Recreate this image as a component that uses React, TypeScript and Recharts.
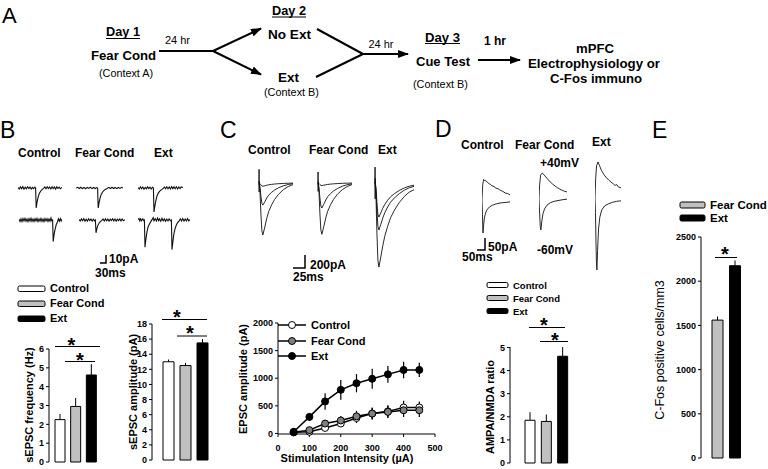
import React from 'react';
import { BarChart, Bar, XAxis, YAxis, ErrorBar, Cell, LineChart, Line } from 'recharts';

const FONT = "'Liberation Sans', Arial, Helvetica, sans-serif";

// ---------- Panel B: sEPSC ----------
const groups3 = ['Control', 'Fear Cond', 'Ext'];
const groupColors3 = ['#ffffff', '#c0c0c0', '#000000'];
const sepscFreq = [2.25, 2.95, 4.62];
const sepscFreqErr = [0.3, 0.45, 0.58];
const freqTicks = [0, 1, 2, 3, 4, 5, 6];
const sepscAmp = [13.0, 12.5, 15.5];
const sepscAmpErr = [0.3, 0.35, 0.5];
const ampTicks = [0, 2, 4, 6, 8, 10, 12, 14, 16, 18];

// ---------- Panel C: input-output ----------
const stimIntensity = [50, 100, 150, 200, 250, 300, 350, 400, 450];
const epscCtrl = [20, 30, 100, 180, 280, 360, 400, 470, 470];
const epscCtrlErr = [15, 20, 40, 60, 90, 100, 110, 120, 110];
const epscFear = [20, 60, 180, 235, 310, 360, 390, 420, 420];
const epscFearErr = [20, 40, 60, 80, 100, 110, 110, 120, 120];
const epscExt = [30, 300, 580, 790, 910, 990, 1070, 1150, 1150];
const epscExtErr = [40, 70, 150, 180, 165, 180, 150, 150, 130];
const epscXTicks = [0, 100, 200, 300, 400, 500];
const epscYTicks = [0, 500, 1000, 1500, 2000];

// ---------- Panel D: AMPA/NMDA ----------
const ampaNmda = [1.85, 1.8, 4.62];
const ampaNmdaErr = [0.35, 0.3, 0.4];
const ampaTicks = [0, 1, 2, 3, 4, 5];

// ---------- Panel E: c-Fos ----------
const groups2 = ['Fear Cond', 'Ext'];
const groupColors2 = ['#c0c0c0', '#000000'];
const cfos = [1560, 2175];
const cfosErr = [40, 60];
const cfosTicks = [0, 500, 1000, 1500, 2000, 2500];

// ---------- Traces (ms, pA) ----------
type P = [number, number];
const bCtrl1: P[] = [[0,0.5],[6,-1.2],[12,1.4],[18,-0.8],[24,1.6],[30,-1.4],[36,0.9],[42,-1],[48,1.5],[54,-0.6],[60,1.2],[66,-1.3],[72,0.8],[78,-0.9],[84,1.1],[88,0],[91,-25],[95,-18],[100,-12],[106,-7],[113,-4],[120,-2],[128,-0.5],[134,1.4],[140,-1],[146,1.5],[152,-0.8],[158,1.3],[164,-1.2],[170,1.6],[176,-0.7],[182,1.2],[188,-1.3],[194,1.4],[200,-0.6],[206,1.1],[212,-1],[220,0.8]];
const bFear1: P[] = [[0,0],[8,0.8],[16,-0.6],[24,0.9],[32,-0.7],[40,0.6],[48,-0.9],[56,0.7],[64,-0.5],[72,0.9],[80,-0.8],[88,0.6],[96,-0.7],[104,0.5],[108,0],[111,-25],[115,-19],[120,-13],[126,-8],[133,-5],[140,-3],[148,-1.5],[156,-0.5],[164,0.8],[172,-0.7],[180,0.9],[188,-0.6],[196,0.7],[204,-0.8],[212,0.6],[220,-0.5],[228,0.8],[235,0]];
const bExt1: P[] = [[0,0.6],[6,-1.3],[12,1.5],[18,-1],[24,1.2],[30,-1.5],[36,0.8],[42,-1.1],[48,1.4],[54,-0.8],[60,1],[66,-1.2],[72,0.9],[77,0],[80,-30],[84,-23],[89,-16],[95,-10],[102,-6],[110,-3.5],[118,-2],[126,-0.5],[132,1.2],[138,-1],[144,1.5],[150,-0.9],[156,1.3],[162,-1.2],[168,1.6],[174,-0.8],[180,1.4],[186,-1],[192,1.5],[198,-1.2],[204,1.3],[210,-0.7],[216,1.4],[225,0.5]];
const bCtrl2: P[] = [[0,1],[5,-1.8],[10,1.5],[15,-2],[20,1.8],[25,-1.2],[30,2],[35,-1.6],[40,1.3],[45,-2.1],[50,1.7],[55,-1.4],[60,2.1],[65,-1.8],[70,1.2],[75,-1.9],[80,1.6],[85,-1.3],[90,1.9],[95,-2],[100,1.4],[105,-1.5],[110,2],[115,-1.7],[120,1.2],[125,-2],[130,1.8],[135,-1.1],[140,1.6],[145,-1.9],[150,1.3],[155,-1.4],[160,2.5],[164,-1],[168,0],[171,-27],[175,-19],[180,-12],[186,-6],[192,-2.5],[197,1.5],[202,-1.6],[207,1.8],[211,-1.2],[215,0.8]];
const bFear2: P[] = [[0,0.5],[6,-1.2],[12,1.4],[18,-1],[24,1.6],[30,-1.3],[36,1],[42,-1.4],[48,1.5],[54,-0.7],[60,1.2],[66,-1.5],[72,1],[78,-1],[82,0],[85,-16],[89,-11],[94,-7],[100,-4],[107,-2],[114,-0.5],[120,1.2],[126,-1.2],[132,1.4],[138,-0.9],[144,1.3],[150,-1.4],[156,1.1],[162,-0.8],[168,1.5],[174,-1.1],[180,1.2],[186,-1.4],[192,1],[198,-0.8],[204,1.3],[210,-1.1],[216,1.2],[222,-0.9],[230,0.4]];
const bExt2: P[] = [[0,0.5],[5,1.8],[9,-1.2],[13,1.4],[18,-1],[24,1.5],[29,-0.8],[32,0],[35,-34],[39,-25],[44,-16],[50,-9],[57,-5],[64,-2],[70,0.5],[76,3],[80,-1],[86,1.6],[92,-1.3],[98,2.5],[103,-0.8],[108,1.4],[114,-1.5],[120,2],[126,-1],[132,1.3],[138,-1.6],[144,1.2],[150,-1.2],[156,1.5],[162,-0.9],[167,0],[170,-37],[174,-28],[179,-18],[185,-11],[192,-6],[199,-3],[206,-1],[212,1.5],[218,-1.2],[224,1.8],[230,-1.4],[236,1.3],[242,-1.1],[248,1.6],[254,-1],[260,0.5]];

const cT = [0, 2, 4, 6, 8, 12, 16, 20, 26, 32, 40, 50, 60, 70];
const cCtrlA = [0, -8, -30, -46, -50, -43, -34, -28, -21, -16, -11, -7, -4, -2];
const cCtrlB = [0, -51, -204, -313, -340, -289, -231, -187, -143, -109, -75, -44, -24, -10];
const cCtrlC = [0, -120, -480, -736, -800, -680, -544, -440, -336, -256, -176, -104, -56, -24];
const cFearA = [0, -6, -24, -37, -40, -34, -27, -22, -17, -13, -9, -5, -3, -1];
const cFearB = [0, -58, -231, -354, -385, -327, -262, -212, -162, -123, -85, -50, -27, -12];
const cFearC = [0, -119, -474, -727, -790, -672, -537, -435, -332, -253, -174, -103, -55, -24];
const cExtT = [0, 2, 4, 6, 8, 12, 16, 20, 26, 32, 40, 50, 60, 70, 80];
const cExtA = [0, -81, -324, -497, -540, -475, -405, -346, -281, -227, -178, -130, -92, -65, -49];
const cExtB = [0, -111, -444, -681, -740, -651, -555, -474, -385, -311, -244, -178, -126, -89, -67];
const cExtC = [0, -197, -786, -1205, -1310, -1153, -983, -838, -681, -550, -432, -314, -223, -157, -118];
const artT = [0, 0.2, 0.4, 0.6, 0.8];
const cCtrlArt = [0, 210, -140, 30, 0];
const cFearArt = [0, 170, -130, 20, 0];
const cExtArt = [0, 230, -260, 60, 0];

const dCtrlUpT = [0, 4, 10, 16, 24, 32, 42, 52, 62, 75, 88, 100, 115, 130, 145, 160, 175];
const dCtrlUpV = [0, 60, 86, 81, 80, 75, 69, 65, 59, 56, 49, 47, 40, 36, 29, 27, 21];
const dCtrlLoT = [0, 3, 6, 10, 15, 22, 30, 45, 65, 90, 120, 150, 175];
const dCtrlLoV = [0, -60, -138, -105, -75, -55, -42, -30, -22, -16, -12, -10, -8];
const dFearUpT = [0, 4, 10, 20, 30, 42, 55, 70, 85, 100, 115, 130, 145, 160, 175];
const dFearUpV = [0, 55, 95, 104, 98, 88, 78, 67, 58, 50, 43, 37, 32, 28, 25];
const dFearLoT = [0, 3, 8, 12, 18, 25, 35, 50, 70, 95, 125, 150, 175];
const dFearLoV = [0, -50, -120, -133, -95, -65, -45, -30, -20, -14, -10, -7, -5];
const dExtUpT = [0, 4, 10, 19, 28, 40, 55, 70, 85, 100, 115, 125, 135, 145, 162];
const dExtUpV = [0, 80, 135, 150, 135, 115, 98, 85, 75, 66, 58, 52, 56, 46, 42];
const dExtLoT = [0, 3, 6, 9, 12, 16, 22, 30, 42, 60, 85, 110, 135, 162];
const dExtLoV = [0, -60, -180, -270, -300, -220, -130, -80, -50, -33, -24, -18, -14, -12];

const zip = (ts: number[], vs: number[]) => ts.map((t, i) => ({ t, v: vs[i] }));
const pairs = (ps: P[]) => ps.map(([t, v]) => ({ t, v }));

type Row = { t: number; v: number };

function Trace({ left, top, width, height, xDomain, yDomain, series, sw = 0.9 }:
  { left: number; top: number; width: number; height: number; xDomain: [number, number]; yDomain: [number, number]; series: Row[][]; sw?: number }) {
  return (
    <div style={{ position: 'absolute', left, top, width, height }}>
      <LineChart width={width} height={height} margin={{ top: 0, right: 0, bottom: 0, left: 0 }}>
        <XAxis type="number" dataKey="t" domain={xDomain} scale="linear" ticks={xDomain} hide />
        <YAxis type="number" domain={yDomain} scale="linear" ticks={yDomain} hide />
        {series.map((s, i) => (
          <Line key={i} data={s} dataKey="v" type="linear" stroke="#111" strokeWidth={sw}
            dot={false} activeDot={false} isAnimationActive={false} />
        ))}
      </LineChart>
    </div>
  );
}

const tickStyle = { fontSize: 9, fontWeight: 700, fill: '#000', fontFamily: FONT };

function GroupBars({ left, top, width, height, margin, yWidth, names, values, errs, colors, domain, ticks, padding, barSize }:
  any) {
  const data = names.map((n: string, i: number) => ({ name: n, value: values[i], err: [0, errs[i]] }));
  return (
    <div style={{ position: 'absolute', left, top, width, height }}>
      <BarChart width={width} height={height} data={data} margin={margin}>
        <XAxis dataKey="name" type="category" tick={false} tickLine={false} height={0}
          axisLine={{ stroke: '#000', strokeWidth: 1 }} padding={padding} />
        <YAxis type="number" domain={domain} ticks={ticks} interval={0} width={yWidth} tickSize={3}
          tickLine={{ stroke: '#000' }} axisLine={{ stroke: '#000', strokeWidth: 1 }} tick={tickStyle} />
        <Bar dataKey="value" barSize={barSize} stroke="#000" strokeWidth={1} isAnimationActive={false}>
          {data.map((_: any, i: number) => <Cell key={i} fill={colors[i]} />)}
          <ErrorBar dataKey="err" width={0} stroke="#000" strokeWidth={1} direction="y" />
        </Bar>
      </BarChart>
    </div>
  );
}

const cData = stimIntensity.map((x, i) => ({
  x, ctrl: epscCtrl[i], ctrlErr: epscCtrlErr[i], fear: epscFear[i], fearErr: epscFearErr[i], ext: epscExt[i], extErr: epscExtErr[i],
}));

function Star({ x, cy }: { x: number; cy: number }) {
  return <text x={x} y={cy + 11.5} fontSize={20} fontWeight={700} textAnchor="middle">*</text>;
}

function Overlay() {
  const bold = { fontWeight: 700 } as const;
  return (
    <svg width={768} height={469} style={{ position: 'absolute', left: 0, top: 0, pointerEvents: 'none' }}
      fontFamily={FONT} fill="#000">
      <defs>
        <marker id="ah" markerWidth={11} markerHeight={8} refX={10} refY={4} orient="auto" markerUnits="userSpaceOnUse">
          <path d="M0,0 L11,4 L0,8 z" fill="#000" />
        </marker>
      </defs>
      {/* Panel letters */}
      <text x={2} y={23} fontSize={22}>A</text>
      <text x={0} y={138} fontSize={23}>B</text>
      <text x={220} y={138} fontSize={23}>C</text>
      <text x={435} y={137} fontSize={23}>D</text>
      <text x={652} y={138} fontSize={23}>E</text>

      {/* Panel A diagram */}
      <text x={123} y={36} fontSize={13} {...bold} textAnchor="middle" textLength={34} lengthAdjust="spacingAndGlyphs">Day 1</text>
      <line x1={106} y1={38.5} x2={140} y2={38.5} stroke="#000" strokeWidth={1.2} />
      <text x={177.5} y={43.5} fontSize={11} textAnchor="middle">24 hr</text>
      <text x={123.5} y={60} fontSize={13} {...bold} textAnchor="middle" textLength={65} lengthAdjust="spacingAndGlyphs">Fear Cond</text>
      <text x={126} y={77} fontSize={11} textAnchor="middle" textLength={54} lengthAdjust="spacingAndGlyphs">(Context A)</text>
      <text x={289} y={15} fontSize={13} {...bold} textAnchor="middle" textLength={34} lengthAdjust="spacingAndGlyphs">Day 2</text>
      <line x1={272} y1={17} x2={306} y2={17} stroke="#000" strokeWidth={1.2} />
      <text x={289.5} y={38.5} fontSize={13} {...bold} textAnchor="middle" textLength={43} lengthAdjust="spacingAndGlyphs">No Ext</text>
      <text x={288.5} y={81.5} fontSize={13} {...bold} textAnchor="middle" textLength={21} lengthAdjust="spacingAndGlyphs">Ext</text>
      <text x={291.5} y={95.5} fontSize={11} textAnchor="middle" textLength={55} lengthAdjust="spacingAndGlyphs">(Context B)</text>
      <text x={381} y={47.5} fontSize={11} textAnchor="middle">24 hr</text>
      <text x={442.5} y={41.5} fontSize={13} {...bold} textAnchor="middle" textLength={35} lengthAdjust="spacingAndGlyphs">Day 3</text>
      <line x1={425} y1={43.5} x2={460} y2={43.5} stroke="#000" strokeWidth={1.2} />
      <text x={495} y={44.5} fontSize={12} {...bold} textAnchor="middle" textLength={22} lengthAdjust="spacingAndGlyphs">1 hr</text>
      <text x={443} y={65.5} fontSize={13} {...bold} textAnchor="middle" textLength={54} lengthAdjust="spacingAndGlyphs">Cue Test</text>
      <text x={440.5} y={87.5} fontSize={11} textAnchor="middle" textLength={55} lengthAdjust="spacingAndGlyphs">(Context B)</text>
      <text x={595} y={52.5} fontSize={13} {...bold} textAnchor="middle" textLength={38} lengthAdjust="spacingAndGlyphs">mPFC</text>
      <text x={594} y={67.5} fontSize={13} {...bold} textAnchor="middle" textLength={132} lengthAdjust="spacingAndGlyphs">Electrophysiology or</text>
      <text x={596} y={82.5} fontSize={13} {...bold} textAnchor="middle" textLength={92} lengthAdjust="spacingAndGlyphs">C-Fos immuno</text>
      <g stroke="#000" strokeWidth={2} fill="none">
        <line x1={159} y1={51} x2={213} y2={51} />
        <line x1={213} y1={51} x2={261} y2={28.5} markerEnd="url(#ah)" />
        <line x1={213} y1={51} x2={261} y2={74.5} markerEnd="url(#ah)" />
        <line x1={317} y1={29} x2={363} y2={54} />
        <line x1={316} y1={77} x2={363} y2={54} />
        <line x1={363} y1={54} x2={408} y2={54} markerEnd="url(#ah)" />
        <line x1={478} y1={60} x2={520} y2={60} markerEnd="url(#ah)" />
      </g>

      {/* Panel B trace labels & scale */}
      <text x={18} y={156.5} fontSize={12} {...bold}>Control</text>
      <text x={75} y={156.5} fontSize={12} {...bold}>Fear Cond</text>
      <text x={154} y={156.5} fontSize={12} {...bold}>Ext</text>
      <polyline points="100,263 106,263 106,255" stroke="#000" strokeWidth={1.5} fill="none" />
      <text x={109} y={263} fontSize={12} {...bold}>10pA</text>
      <text x={95} y={277} fontSize={12} {...bold}>30ms</text>

      {/* Panel B legend */}
      <rect x={18} y={286} width={27} height={5.5} rx={1.5} fill="#fff" stroke="#000" strokeWidth={1} />
      <rect x={18} y={301} width={27} height={5.5} rx={1.5} fill="#c0c0c0" stroke="#000" strokeWidth={1} />
      <rect x={18} y={316} width={27} height={5.5} rx={1.5} fill="#000" stroke="#000" strokeWidth={1} />
      <text x={50} y={292} fontSize={11} {...bold}>Control</text>
      <text x={50} y={307} fontSize={11} {...bold}>Fear Cond</text>
      <text x={50} y={322} fontSize={11} {...bold}>Ext</text>

      {/* Panel B y labels & significance */}
      <text transform="translate(33,405) rotate(-90)" fontSize={11} {...bold} textAnchor="middle">sEPSC frequency (Hz)</text>
      <text transform="translate(137,392) rotate(-90)" fontSize={11} {...bold} textAnchor="middle">sEPSC amplitude (pA)</text>
      <g stroke="#000" strokeWidth={1}>
        <line x1={55} y1={346.5} x2={100} y2={346.5} />
        <line x1={65} y1={361.5} x2={95} y2={361.5} />
        <line x1={162} y1={319.5} x2={207} y2={319.5} />
        <line x1={177} y1={336} x2={207} y2={336} />
      </g>
      <Star x={71.5} cy={340} />
      <Star x={80} cy={355} />
      <Star x={177} cy={312} />
      <Star x={190} cy={328} />

      {/* Panel C labels & scale */}
      <text x={248} y={154} fontSize={12} {...bold}>Control</text>
      <text x={309} y={154} fontSize={12} {...bold}>Fear Cond</text>
      <text x={378} y={154} fontSize={12} {...bold}>Ext</text>
      <polyline points="293,268 305,268 305,255" stroke="#000" strokeWidth={1.5} fill="none" />
      <text x={310} y={269} fontSize={12} {...bold}>200pA</text>
      <text x={293} y={281} fontSize={12} {...bold}>25ms</text>
      <text transform="translate(247,379) rotate(-90)" fontSize={11} {...bold} textAnchor="middle">EPSC amplitude (pA)</text>
      <text x={347} y={462} fontSize={11} {...bold} textAnchor="middle">Stimulation Intensity (µA)</text>
      {/* C legend */}
      <g stroke="#000">
        <line x1={278} y1={325} x2={306} y2={325} strokeWidth={1.5} />
        <line x1={278} y1={341} x2={306} y2={341} strokeWidth={1.5} />
        <line x1={278} y1={356} x2={306} y2={356} strokeWidth={1.5} />
        <circle cx={292} cy={325} r={3.5} fill="#fff" strokeWidth={1} />
        <circle cx={292} cy={341} r={3.5} fill="#808080" strokeWidth={1} />
        <circle cx={292} cy={356} r={3.5} fill="#000" strokeWidth={1} />
      </g>
      <text x={311} y={329} fontSize={11} {...bold}>Control</text>
      <text x={311} y={345} fontSize={11} {...bold}>Fear Cond</text>
      <text x={311} y={360} fontSize={11} {...bold}>Ext</text>

      {/* Panel D labels & scale */}
      <text x={461} y={149} fontSize={12} {...bold}>Control</text>
      <text x={515} y={149} fontSize={12} {...bold}>Fear Cond</text>
      <text x={592} y={146} fontSize={12} {...bold}>Ext</text>
      <text x={540} y={167} fontSize={12} {...bold}>+40mV</text>
      <text x={537} y={254} fontSize={12} {...bold}>-60mV</text>
      <polyline points="477,250 485,250 485,238" stroke="#000" strokeWidth={1.5} fill="none" />
      <text x={488} y={251} fontSize={12} {...bold}>50pA</text>
      <text x={462} y={261} fontSize={12} {...bold}>50ms</text>
      {/* D legend */}
      <rect x={487} y={282.5} width={21} height={5} rx={1.5} fill="#fff" stroke="#000" />
      <rect x={487} y={295.5} width={21} height={5} rx={1.5} fill="#c0c0c0" stroke="#000" />
      <rect x={487} y={308.5} width={21} height={5} rx={1.5} fill="#000" stroke="#000" />
      <text x={513} y={288.5} fontSize={9.5} {...bold}>Control</text>
      <text x={513} y={301.5} fontSize={9.5} {...bold}>Fear Cond</text>
      <text x={513} y={314.5} fontSize={9.5} {...bold}>Ext</text>
      <text transform="translate(494,407) rotate(-90)" fontSize={11} {...bold} textAnchor="middle">AMPA/NMDA ratio</text>
      <g stroke="#000" strokeWidth={1}>
        <line x1={529} y1={327.5} x2={565} y2={327.5} />
        <line x1={540} y1={341.5} x2={568} y2={341.5} />
      </g>
      <Star x={544} cy={320} />
      <Star x={555} cy={335} />

      {/* Panel E legend & labels */}
      <rect x={680} y={202} width={25} height={6} rx={1.5} fill="#c0c0c0" stroke="#000" />
      <rect x={680} y={215} width={25} height={6} rx={1.5} fill="#000" stroke="#000" />
      <text x={710} y={209} fontSize={11.5} {...bold}>Fear Cond</text>
      <text x={710} y={222} fontSize={11.5} {...bold}>Ext</text>
      <text transform="translate(664,350) rotate(-90)" fontSize={12.5} textAnchor="middle">C-Fos positive cells/mm3</text>
      <line x1={715} y1={257.5} x2={737} y2={257.5} stroke="#000" strokeWidth={1} />
      <Star x={725} cy={249} />
    </svg>
  );
}

export default function App() {
  const bY: [number, number] = [-40, 10];
  const cY: [number, number] = [-878, 277];
  const cYExt: [number, number] = [-1386, 262];
  return (
    <div style={{ position: 'absolute', left: 0, top: 0, width: 768, height: 469, background: '#fff', fontFamily: FONT, overflow: 'hidden' }}>
      {/* Panel B traces */}
      <Trace left={18} top={180} width={44} height={40} xDomain={[0, 220]} yDomain={bY} series={[pairs(bCtrl1)]} sw={1.1} />
      <Trace left={76} top={180} width={47} height={40} xDomain={[0, 235]} yDomain={bY} series={[pairs(bFear1)]} sw={1.1} />
      <Trace left={138} top={180} width={45} height={40} xDomain={[0, 225]} yDomain={bY} series={[pairs(bExt1)]} sw={1.1} />
      <Trace left={19} top={212} width={43} height={40} xDomain={[0, 215]} yDomain={bY} series={[pairs(bCtrl2)]} sw={1.1} />
      <Trace left={79} top={212} width={46} height={40} xDomain={[0, 230]} yDomain={bY} series={[pairs(bFear2)]} sw={1.1} />
      <Trace left={138} top={212} width={52} height={40} xDomain={[0, 260]} yDomain={bY} series={[pairs(bExt2)]} sw={1.1} />

      {/* Panel C traces */}
      <Trace left={258} top={165} width={35} height={75} xDomain={[-2, 70]} yDomain={cY}
        series={[zip(artT, cCtrlArt), zip(cT, cCtrlA), zip(cT, cCtrlB), zip(cT, cCtrlC)]} />
      <Trace left={317} top={165} width={35} height={75} xDomain={[-2, 70]} yDomain={cY}
        series={[zip(artT, cFearArt), zip(cT, cFearA), zip(cT, cFearB), zip(cT, cFearC)]} />
      <Trace left={374} top={165} width={40} height={107} xDomain={[-2, 80]} yDomain={cYExt}
        series={[zip(artT, cExtArt), zip(cExtT, cExtA), zip(cExtT, cExtB), zip(cExtT, cExtC)]} />

      {/* Panel D traces */}
      <Trace left={482} top={170} width={28} height={70} xDomain={[0, 175]} yDomain={[-167, 125]}
        series={[zip(dCtrlUpT, dCtrlUpV), zip(dCtrlLoT, dCtrlLoV)]} />
      <Trace left={539} top={168} width={28} height={70} xDomain={[0, 175]} yDomain={[-167, 125]}
        series={[zip(dFearUpT, dFearUpV), zip(dFearLoT, dFearLoV)]} />
      <Trace left={595} top={155} width={26} height={120} xDomain={[0, 162]} yDomain={[-321, 179]}
        series={[zip(dExtUpT, dExtUpV), zip(dExtLoT, dExtLoV)]} />

      {/* Panel B bars */}
      <GroupBars left={0} top={330} width={110} height={140} margin={{ top: 19, right: 7, bottom: 8, left: 0 }}
        yWidth={49} names={groups3} values={sepscFreq} errs={sepscFreqErr} colors={groupColors3}
        domain={[0, 6]} ticks={freqTicks} padding={{ left: 3, right: 4 }} barSize={10} />
      <GroupBars left={100} top={310} width={125} height={155} margin={{ top: 14, right: 5, bottom: 5, left: 0 }}
        yWidth={52} names={groups3} values={sepscAmp} errs={sepscAmpErr} colors={groupColors3}
        domain={[0, 18]} ticks={ampTicks} padding={{ left: 8, right: 9 }} barSize={11} />

      {/* Panel C input-output */}
      <div style={{ position: 'absolute', left: 230, top: 315, width: 215, height: 140 }}>
        <LineChart width={215} height={140} data={cData} margin={{ top: 8, right: 10, bottom: 1, left: 0 }}>
          <XAxis dataKey="x" type="number" domain={[0, 500]} ticks={epscXTicks} interval={0} height={20}
            tickSize={3} tickMargin={8} tickLine={{ stroke: '#000' }} axisLine={{ stroke: '#000' }} tick={tickStyle} />
          <YAxis type="number" domain={[0, 2000]} ticks={epscYTicks} interval={0} width={48} tickSize={3}
            tickLine={{ stroke: '#000' }} axisLine={{ stroke: '#000' }} tick={tickStyle} />
          <Line dataKey="ctrl" type="linear" stroke="#000" strokeWidth={1.5} isAnimationActive={false}
            dot={{ r: 3.5, fill: '#fff', stroke: '#000', strokeWidth: 1 }} activeDot={false}>
            <ErrorBar dataKey="ctrlErr" width={0} stroke="#000" strokeWidth={1.2} direction="y" />
          </Line>
          <Line dataKey="fear" type="linear" stroke="#000" strokeWidth={1.5} isAnimationActive={false}
            dot={{ r: 3.5, fill: '#808080', stroke: '#000', strokeWidth: 1 }} activeDot={false}>
            <ErrorBar dataKey="fearErr" width={0} stroke="#000" strokeWidth={1.2} direction="y" />
          </Line>
          <Line dataKey="ext" type="linear" stroke="#000" strokeWidth={1.5} isAnimationActive={false}
            dot={{ r: 3.5, fill: '#000', stroke: '#000', strokeWidth: 1 }} activeDot={false}>
            <ErrorBar dataKey="extErr" width={0} stroke="#000" strokeWidth={1.2} direction="y" />
          </Line>
        </LineChart>
      </div>

      {/* Panel D bars */}
      <GroupBars left={455} top={330} width={135} height={140} margin={{ top: 17, right: 7, bottom: 7, left: 0 }}
        yWidth={55} names={groups3} values={ampaNmda} errs={ampaNmdaErr} colors={groupColors3}
        domain={[0, 5]} ticks={ampaTicks} padding={{ left: 12, right: 12 }} barSize={10} />

      {/* Panel E bars */}
      <GroupBars left={650} top={225} width={115} height={240} margin={{ top: 12, right: 12, bottom: 7, left: 0 }}
        yWidth={51} names={groups2} values={cfos} errs={cfosErr} colors={groupColors2}
        domain={[0, 2500]} ticks={cfosTicks} padding={{ left: 8, right: 9 }} barSize={11} />

      <Overlay />
    </div>
  );
}
